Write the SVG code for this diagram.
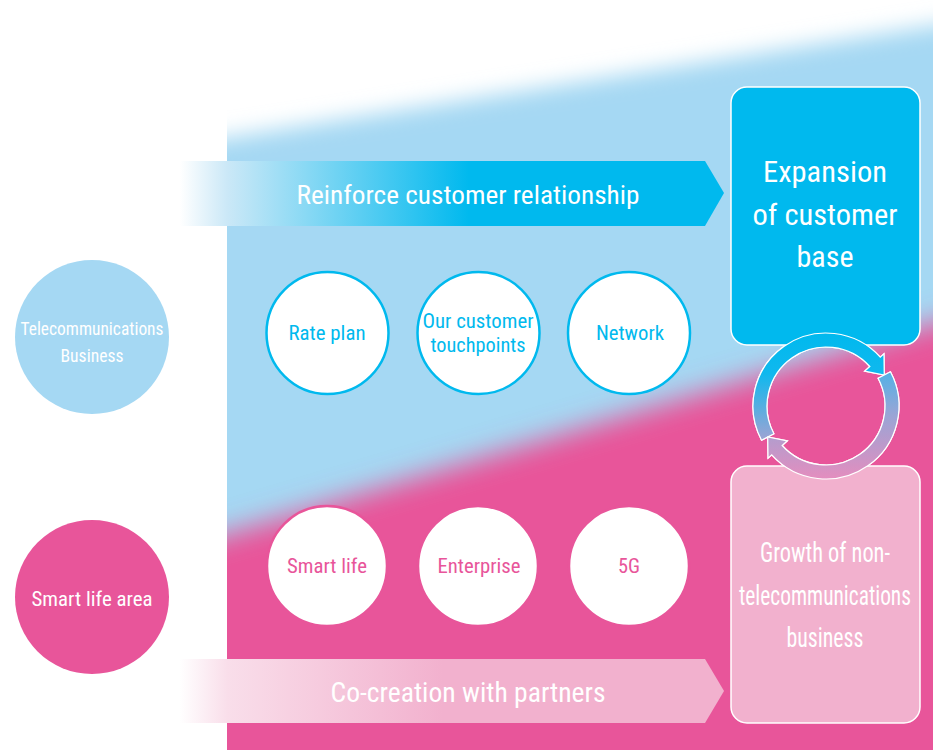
<svg xmlns="http://www.w3.org/2000/svg" width="933" height="750" viewBox="0 0 933 750">
<defs>
<style>
text{font-family:"Liberation Sans Narrow","Roboto Condensed","DejaVu Sans Condensed","Liberation Sans",Arial,sans-serif;text-anchor:middle}
.w{fill:#FFFFFF}
.c{fill:#00B9EE}
.p{fill:#E8559A}
.box{stroke:#FFFFFF;stroke-width:1.5}
.ring{stroke:#FFFFFF;stroke-width:1.2}
</style>
<clipPath id="panel"><rect x="227" y="0" width="706" height="750"/></clipPath>
<filter id="soft" x="-20%" y="-20%" width="140%" height="140%"><feGaussianBlur stdDeviation="11"/></filter>
<filter id="soft2" x="-20%" y="-20%" width="140%" height="140%"><feGaussianBlur stdDeviation="14"/></filter>
<linearGradient id="gBlue" gradientUnits="userSpaceOnUse" x1="180" y1="0" x2="705" y2="0">
<stop offset="0" stop-color="#FFFFFF"/>
<stop offset="0.09" stop-color="#CBE8F7"/>
<stop offset="0.55" stop-color="#00B9EE"/>
<stop offset="1" stop-color="#00B9EE"/>
</linearGradient>
<linearGradient id="gPink" gradientUnits="userSpaceOnUse" x1="180" y1="0" x2="705" y2="0">
<stop offset="0" stop-color="#FFFFFF"/>
<stop offset="0.09" stop-color="#F9DEEA"/>
<stop offset="0.5" stop-color="#F2B1CE"/>
<stop offset="1" stop-color="#F2B1CE"/>
</linearGradient>
<linearGradient id="gArc1" gradientUnits="userSpaceOnUse" x1="0" y1="333" x2="0" y2="450">
<stop offset="0" stop-color="#00B9EE"/>
<stop offset="0.35" stop-color="#10B8EE"/>
<stop offset="1" stop-color="#B4A0CF"/>
</linearGradient>
<linearGradient id="gArc2" gradientUnits="userSpaceOnUse" x1="0" y1="360" x2="0" y2="480">
<stop offset="0" stop-color="#3FB4EA"/>
<stop offset="0.45" stop-color="#98A5D6"/>
<stop offset="1" stop-color="#E58DBE"/>
</linearGradient>
</defs>

<g id="background" clip-path="url(#panel)">
<polygon points="150,150 1000,15 1000,800 150,800" fill="#A5D8F3" filter="url(#soft)"/>
<polygon points="150,557 1000,304 1000,800 150,800" fill="#E8559A" filter="url(#soft2)"/>
</g>

<g id="connectors">
<g id="arrow-reinforce">
<polygon points="180,161 705,161 724,193 705,226 180,226" fill="url(#gBlue)"/>
<text x="468" y="204" font-size="26" class="w" textLength="343" lengthAdjust="spacingAndGlyphs">Reinforce customer relationship</text>
</g>
<g id="arrow-cocreation">
<polygon points="180,659 705,659 724,691 705,723 180,723" fill="url(#gPink)"/>
<text x="468" y="702" font-size="27" class="w" textLength="275" lengthAdjust="spacingAndGlyphs">Co-creation with partners</text>
</g>
<g id="cycle">
<path class="ring" fill="url(#gArc1)" d="M761.55,440.27 A73,73 0 0 1 880.25,357.16 L883.96,353.81 L884.27,375.01 L864.64,371.21 L869.84,366.52 A59,59 0 0 0 773.91,433.70 Z"/>
<path class="ring" fill="url(#gArc2)" d="M890.45,371.73 A73,73 0 0 1 771.75,454.84 L768.04,458.19 L767.73,436.99 L787.36,440.79 L782.16,445.48 A59,59 0 0 0 878.09,378.30 Z"/>
</g>
</g>

<g id="telecom-business">
<circle cx="92" cy="337" r="77" fill="#A5D8F3"/>
<text x="92" y="335" font-size="19" class="w" textLength="143" lengthAdjust="spacingAndGlyphs">Telecommunications</text>
<text x="92" y="362" font-size="19" class="w" textLength="63" lengthAdjust="spacingAndGlyphs">Business</text>
</g>
<g id="smart-life-area">
<circle cx="92" cy="597" r="77" fill="#E8559A"/>
<text x="92" y="606" font-size="21" class="w" textLength="121" lengthAdjust="spacingAndGlyphs">Smart life area</text>
</g>

<g id="rate-plan">
<circle cx="327.5" cy="333" r="61" fill="#FFFFFF" stroke="#00B9EE" stroke-width="2.5"/>
<text x="327" y="340" font-size="21" class="c" textLength="77" lengthAdjust="spacingAndGlyphs">Rate plan</text>
</g>
<g id="touchpoints">
<circle cx="478.5" cy="333" r="61" fill="#FFFFFF" stroke="#00B9EE" stroke-width="2.5"/>
<text x="478" y="328" font-size="21" class="c" textLength="111" lengthAdjust="spacingAndGlyphs">Our customer</text>
<text x="478" y="352" font-size="21" class="c" textLength="95" lengthAdjust="spacingAndGlyphs">touchpoints</text>
</g>
<g id="network">
<circle cx="629" cy="333" r="61" fill="#FFFFFF" stroke="#00B9EE" stroke-width="2.5"/>
<text x="630" y="340" font-size="21" class="c" textLength="68" lengthAdjust="spacingAndGlyphs">Network</text>
</g>

<g id="smart-life">
<circle cx="327" cy="566" r="60" fill="#FFFFFF" stroke="#E8559A" stroke-width="2.5"/>
<text x="327" y="573" font-size="20" class="p" textLength="80" lengthAdjust="spacingAndGlyphs">Smart life</text>
</g>
<g id="enterprise">
<circle cx="478" cy="566" r="60" fill="#FFFFFF" stroke="#E8559A" stroke-width="2.5"/>
<text x="479" y="573" font-size="20" class="p" textLength="83" lengthAdjust="spacingAndGlyphs">Enterprise</text>
</g>
<g id="fiveg">
<circle cx="629" cy="566" r="60" fill="#FFFFFF" stroke="#E8559A" stroke-width="2.5"/>
<text x="629" y="573" font-size="20" class="p" textLength="22" lengthAdjust="spacingAndGlyphs">5G</text>
</g>

<g id="expansion">
<rect class="box" x="731" y="87" width="189" height="258" rx="16" fill="#00B9EE"/>
<text x="825" y="182" font-size="29" class="w" textLength="124" lengthAdjust="spacingAndGlyphs">Expansion</text>
<text x="825" y="225" font-size="29" class="w" textLength="145" lengthAdjust="spacingAndGlyphs">of customer</text>
<text x="825" y="267" font-size="29" class="w" textLength="57" lengthAdjust="spacingAndGlyphs">base</text>
</g>
<g id="growth">
<rect class="box" x="731" y="466" width="189" height="257" rx="16" fill="#F2B1CE"/>
<text x="825" y="562" font-size="28" class="w" textLength="130" lengthAdjust="spacingAndGlyphs">Growth of non-</text>
<text x="825" y="605" font-size="27" class="w" textLength="172" lengthAdjust="spacingAndGlyphs">telecommunications</text>
<text x="825" y="647" font-size="28" class="w" textLength="77" lengthAdjust="spacingAndGlyphs">business</text>
</g>

<use href="#cycle"/>
</svg>
